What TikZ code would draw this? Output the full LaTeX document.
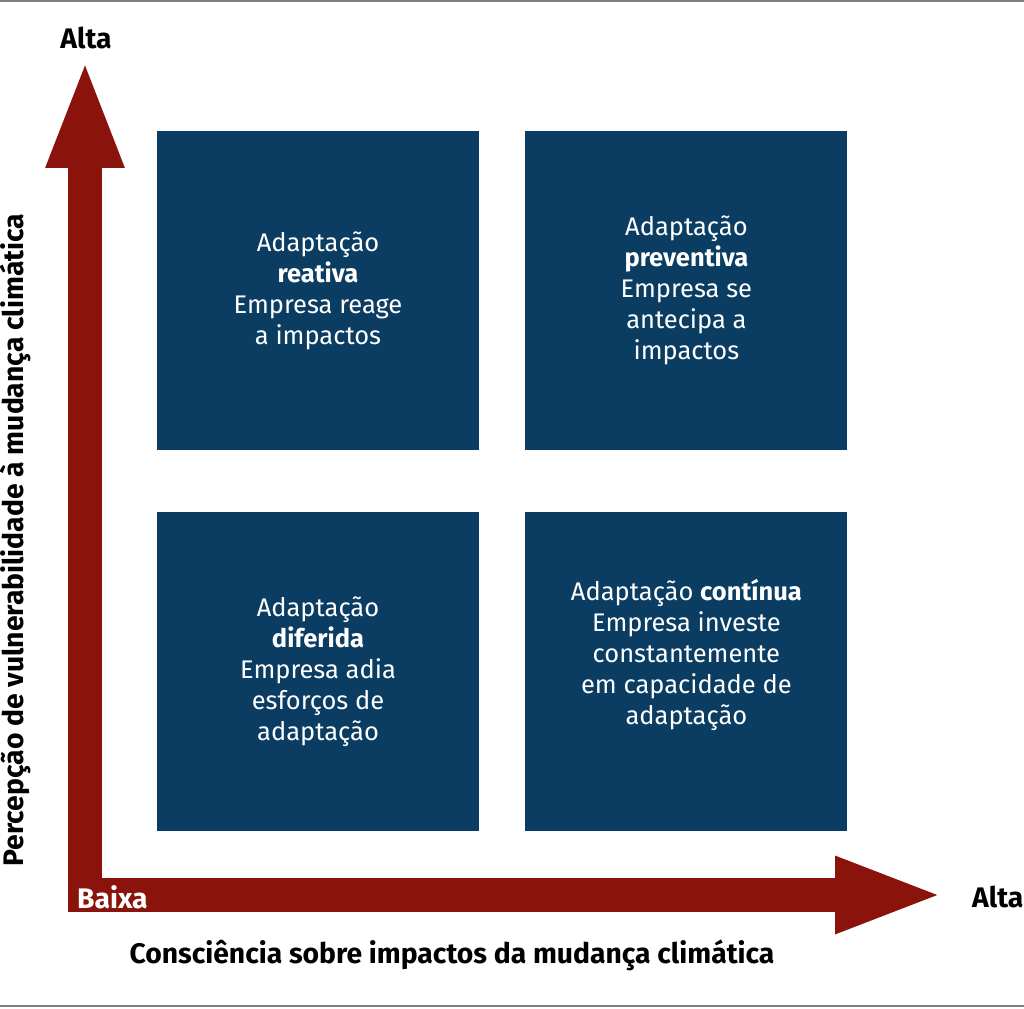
\documentclass[tikz,border=0pt]{standalone}
\usepackage{fontspec}
\setmainfont{Fira Sans}
\usepackage{tikz}
\usetikzlibrary{positioning,arrows.meta}

\definecolor{boxblue}{HTML}{0B3D62}
\definecolor{axisred}{HTML}{8A130B}

\begin{document}
\begin{tikzpicture}[x=1pt, y=-1pt,
  quad/.style={fill=boxblue, text=white, minimum width=322pt, minimum height=319pt,
    inner sep=0pt, align=center, font=\fontsize{25.5}{31}\selectfont},
  axis/.style={axisred, line width=34pt,
    {Triangle[length=110pt,width=70pt]}-{Triangle[length=110pt,width=69pt]}},
  lbl/.style={font=\bfseries\fontsize{28.3}{32}\selectfont}]
  \useasboundingbox (0,0) rectangle (1024,1008);
  \draw[gray, line width=2pt] (0,1) -- (1024,1);
  \draw[gray, line width=2pt] (0,1006) -- (1024,1006);

  % nodes
  \node[quad] (reat) at (318,290.5) {Adapta\c{c}\~ao\\ \textbf{reativa}\\ Empresa reage\\ a impactos};
  \node[quad, right=46pt of reat] (prev) {Adapta\c{c}\~ao\\ \textbf{preventiva}\\ Empresa se\\ antecipa a\\ impactos};
  \node[quad, below=62pt of reat] (dif) {Adapta\c{c}\~ao\\ \textbf{diferida}\\ Empresa adia\\ esfor\c{c}os de\\ adapta\c{c}\~ao};
  \node[quad, right=46pt of dif] (cont) {Adapta\c{c}\~ao \textbf{cont\'inua}\\ Empresa investe\\ constantemente\\ em capacidade de\\ adapta\c{c}\~ao\\ \strut};

  \coordinate (o) at (85,895);
  \coordinate (ytip) at (85,58);
  \coordinate (xtip) at (945,895);
  \node[lbl] (yhigh) at (86,38) {Alta};
  \node[lbl, anchor=west, inner sep=0pt] (xhigh) at (972,897) {Alta};
  \node[lbl] (xlab) at (452,955) {Consci\^encia sobre impactos da mudan\c{c}a clim\'atica};
  \node[lbl, rotate=90] (ylab) at (15,540) {Percep\c{c}\~ao de vulnerabilidade \`a mudan\c{c}a clim\'atica};

  % edges
  \draw[axis] (ytip) -- (o) -- (xtip);
  \node[lbl, anchor=west, inner sep=0pt, text=white] (low) at (77,897) {Baixa};
\end{tikzpicture}
\end{document}
